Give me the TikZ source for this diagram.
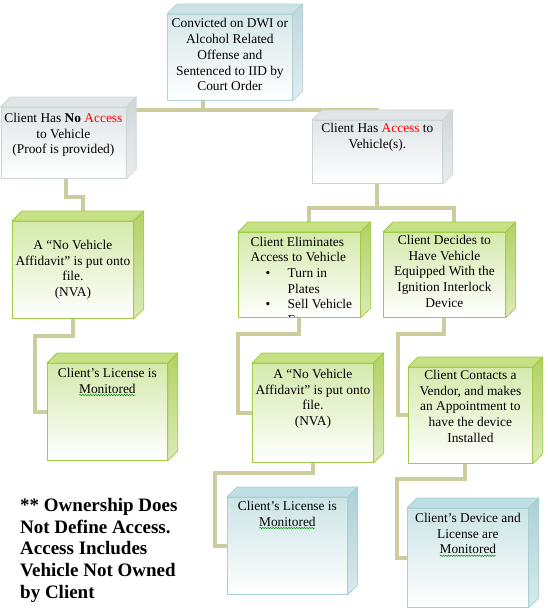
\documentclass[tikz,border=0pt]{standalone}
\usepackage{fontspec}
\setmainfont{Liberation Serif}
\usepackage{tikz}
\usetikzlibrary{calc, backgrounds, decorations.pathmorphing}
\definecolor{lnk}{RGB}{205,204,158}
\definecolor{bluLine}{RGB}{178,210,215}
\definecolor{bluTop}{RGB}{205,226,230}
\definecolor{bluSide}{RGB}{190,215,220}
\definecolor{bluFront}{RGB}{214,231,234}
\definecolor{gryLine}{RGB}{205,212,214}
\definecolor{gryTop}{RGB}{224,229,231}
\definecolor{grySide}{RGB}{208,215,217}
\definecolor{gryFront}{RGB}{224,229,231}
\definecolor{grnLine}{RGB}{160,203,70}
\definecolor{grnTop}{RGB}{198,225,132}
\definecolor{grnSide}{RGB}{178,209,98}
\definecolor{grnFront}{RGB}{212,234,172}
\definecolor{cyLine}{RGB}{165,208,212}
\definecolor{cyTop}{RGB}{192,223,226}
\definecolor{cySide}{RGB}{172,208,212}
\definecolor{cyFront}{RGB}{204,228,230}
\newcommand\bxfont{\fontsize{13.4}{15.7}\selectfont}
\newcommand\bul{\makebox[37pt][l]{\hspace{15pt}\textbullet}}

\begin{document}
\begin{tikzpicture}[x=1pt, y=-1pt,
  box/.style={draw, rectangle, inner sep=0pt, anchor=north west, line width=0.8pt},
  blubox/.style={box, draw=bluLine, top color=bluFront, bottom color=white},
  grybox/.style={box, draw=gryLine, top color=gryFront, bottom color=white},
  grnbox/.style={box, draw=grnLine, top color=grnFront, bottom color=white},
  cybox/.style={box, draw=cyLine, top color=cyFront, bottom color=white},
  boxtxt/.style={anchor=north, align=center, inner sep=0pt, font=\bxfont},
  link/.style={draw=lnk, line width=4pt},
  squig/.style={green!55!black, line width=0.5pt, decorate, decoration={snake, amplitude=0.7pt, segment length=2.6pt}}]
\useasboundingbox (0,0) rectangle (548,616);
% first level
\node[blubox, minimum width=125, minimum height=86,
  label={[boxtxt, name=convt, yshift=-4.5]north:{Convicted on DWI or\\Alcohol Related\\Offense and\\Sentenced to IID by\\Court Order}}] (conv) at (167,14) {};
\node[grybox, minimum width=125, minimum height=71,
  label={[boxtxt, name=noacct, yshift=-6]north:{Client Has \textbf{No} \textcolor{red}{Access}\\to Vehicle\\(Proof is provided)}}] (noacc) at (0.5,107) {};
\node[grybox, minimum width=130, minimum height=63,
  label={[boxtxt, name=acct, yshift=-3]north:{Client Has \textcolor{red}{Access} to\\Vehicle(s).}}] (acc) at (312,120) {};
% no access branch
\node[grnbox, minimum width=121, minimum height=97,
  label={[boxtxt, name=aff1t, yshift=-19]north:{A “No Vehicle\\Affidavit” is put onto\\file.\\(NVA)}}] (aff1) at (12,221) {};
\node[grnbox, minimum width=120, minimum height=97,
  label={[boxtxt, name=lic1t, yshift=-5]north:{Client’s License is\\Monitored}}] (lic1) at (47,363) {};
% access branch
\node[grnbox, minimum width=122, minimum height=85,
  path picture={\node[boxtxt, align=left, name=elimt, xshift=2, yshift=-4] at (path picture bounding box.north)
    {Client Eliminates\\Access to Vehicle\\\bul Turn in\\\hspace*{37pt}Plates\\\bul Sell Vehicle\\\hspace*{37pt}Etc.};}] (elim) at (238,232) {};
\node[grnbox, minimum width=122, minimum height=85,
  label={[boxtxt, name=decidet, yshift=-3]north:{Client Decides to\\Have Vehicle\\Equipped With the\\Ignition Interlock\\Device}}] (decide) at (383,232) {};
\node[grnbox, minimum width=121, minimum height=99,
  label={[boxtxt, name=aff2t, yshift=-6]north:{A “No Vehicle\\Affidavit” is put onto\\file.\\(NVA)}}] (aff2) at (252,363) {};
\node[grnbox, minimum width=124, minimum height=96,
  label={[boxtxt, name=contactt, yshift=-3]north:{Client Contacts a\\Vendor, and makes\\an Appointment to\\have the device\\Installed}}] (contact) at (408,367) {};
\node[cybox, minimum width=120, minimum height=97,
  label={[boxtxt, name=lic2t, yshift=-4]north:{Client’s License is\\Monitored}}] (lic2) at (227,497) {};
\node[cybox, minimum width=121, minimum height=99,
  label={[boxtxt, name=devt, yshift=-5]north:{Client’s Device and\\License are\\Monitored}}] (dev) at (407,508) {};
% 3d faces
\foreach \n/\col in {conv/blu, noacc/gry, acc/gry, aff1/grn, lic1/grn, elim/grn, decide/grn, aff2/grn, contact/grn, lic2/cy, dev/cy} {
  \draw[draw=\col Line, fill=\col Top, line width=0.8pt, line join=round] (\n.north west) -- ++(10,-10) -- ($(\n.north east)+(10,-10)$) -- (\n.north east) -- cycle;
  \draw[draw=\col Line, top color=\col Side, bottom color=\col Side!45!white, line width=0.8pt, line join=round] (\n.north east) -- ++(10,-10) -- ($(\n.south east)+(10,-10)$) -- (\n.south east) -- cycle;
}
% spelling marks
\draw[squig] ($(lic1t.south)+(-28,1.5)$) -- ++(56,0);
\draw[squig] ($(lic2t.south)+(-28,1.5)$) -- ++(56,0);
\draw[squig] ($(devt.south)+(-28,1.5)$) -- ++(56,0);
% connectors
\begin{scope}[on background layer]
\draw[link] ([xshift=-26.5]conv.south) -- ++(0,9) coordinate (j1);
\draw[link] (noacc.east |- j1) -- (acc.north |- j1) -- (acc.north);
\draw[link] ([xshift=3]noacc.south) -- ++(0,18) -| ([xshift=10.5]aff1.north);
\draw[link] (aff1.south) -- ++(0,17) -| ([xshift=-12]lic1.west) -- (lic1.west);
\draw[link] (acc.south) -- ++(0,24) coordinate (j2);
\draw[link] ([xshift=10]elim.north) |- (j2) -| ([xshift=10]decide.north);
\draw[link] (elim.south) -- ++(0,16) -| ([xshift=-14]aff2.west) -- (aff2.west);
\draw[link] (aff2.south) -- ++(0,10) -| ([xshift=-12]lic2.west) -- (lic2.west);
\draw[link] (decide.south) -- ++(0,16) -| ([xshift=-10]contact.west) -- (contact.west);
\draw[link] ([xshift=-5]contact.south) -- ++(0,15) -| ([xshift=-10]dev.west) -- (dev.west);
\end{scope}
% note
\node[anchor=north west, align=left, inner sep=0pt, font=\fontsize{19}{21.7}\selectfont\bfseries] (note) at (20,498)
  {** Ownership Does\\Not Define Access.\\Access Includes\\Vehicle Not Owned\\by Client};
\end{tikzpicture}
\end{document}
